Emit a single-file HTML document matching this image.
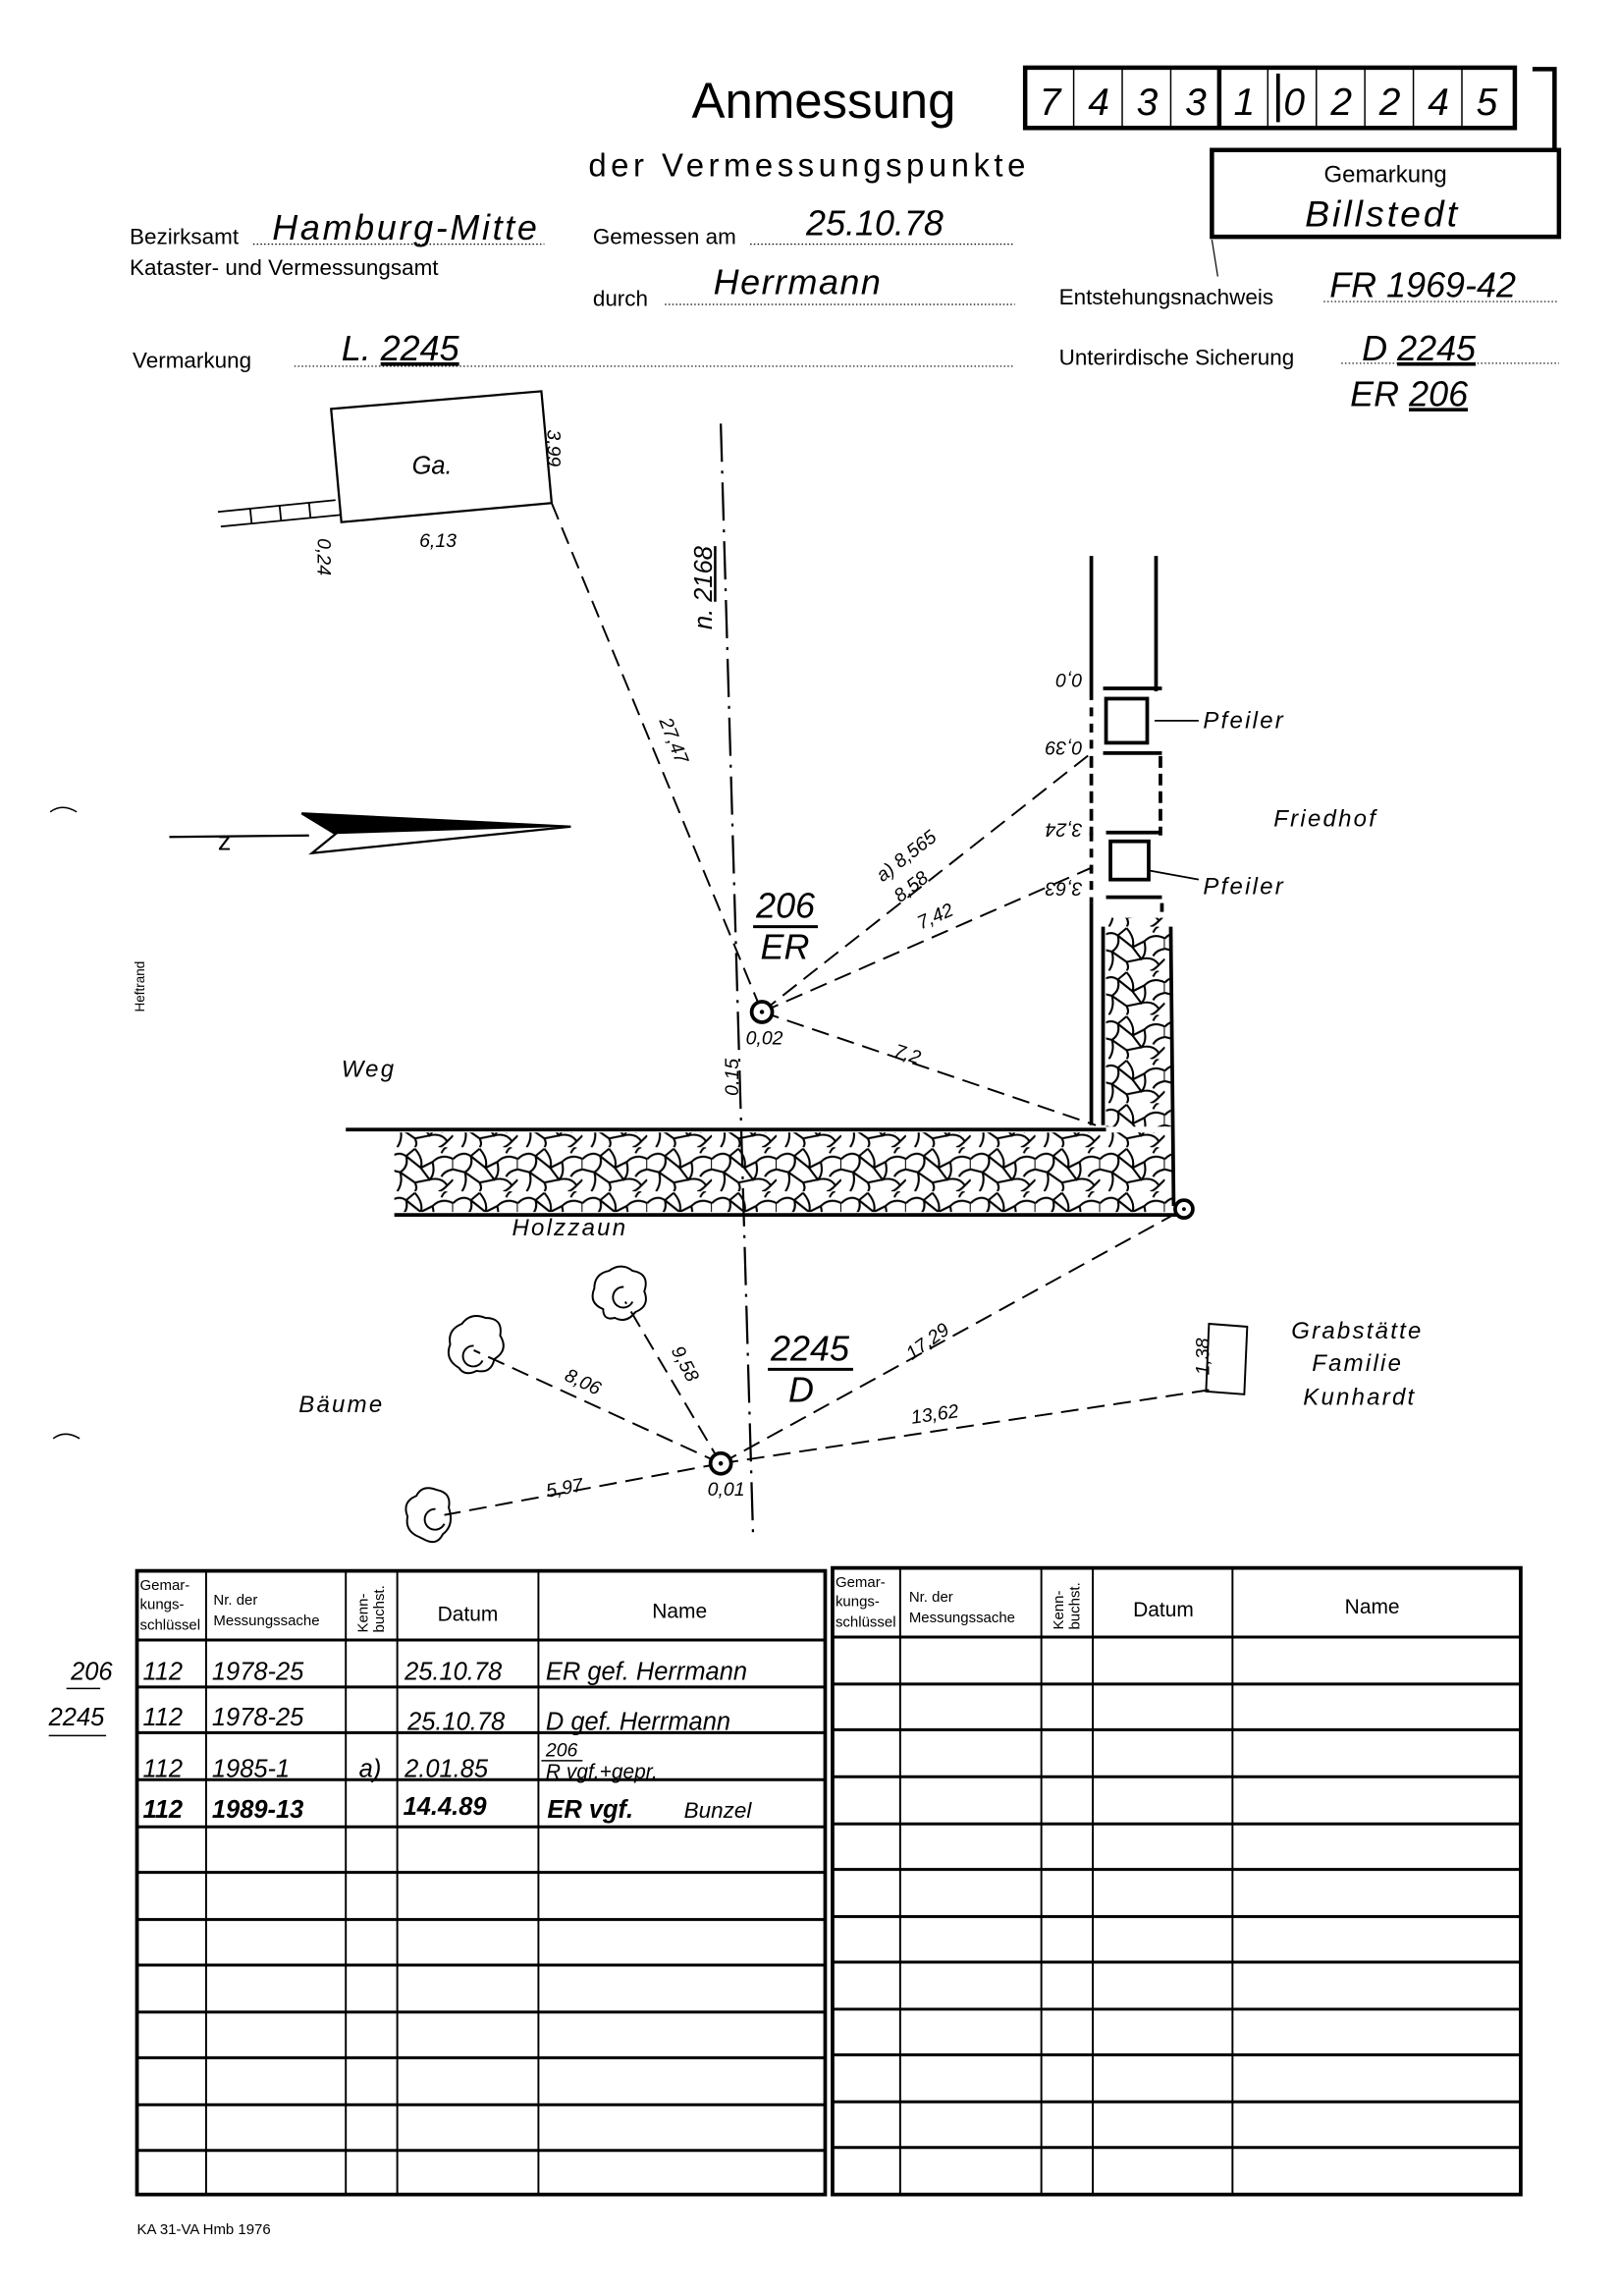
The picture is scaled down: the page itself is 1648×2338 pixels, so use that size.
<!DOCTYPE html>
<html><head><meta charset="utf-8"><style>
html,body{margin:0;padding:0;background:#fff}
svg{display:block}
text{font-family:"Liberation Sans",sans-serif;fill:#000}
.i{font-style:italic}
</style></head><body>
<svg width="1648" height="2338" viewBox="0 0 1100 1561" xmlns="http://www.w3.org/2000/svg">
<defs>
<pattern id="cob" width="44" height="30" patternUnits="userSpaceOnUse">
<path d="M0 8 Q6 2 12 6 L18 1 M12 6 Q14 13 8 17 L0 15 M18 1 Q24 8 22 14 L12 6 M22 14 L30 10 Q36 4 44 8 M30 10 Q32 18 28 22 L22 14 M8 17 Q10 24 6 30 M28 22 L18 24 L8 17 M18 24 Q20 28 18 30 M28 22 Q36 20 40 26 L44 22 M40 26 Q36 30 34 30 M36 4 Q38 0 40 0 M44 8 L44 15 Q38 16 36 20" fill="none" stroke="#000" stroke-width="1.4"/>
</pattern>
</defs>

<!-- Header -->
<text x="560" y="80" font-size="34" text-anchor="middle">Anmessung</text>
<rect x="697" y="46" width="333" height="41" fill="none" stroke="#000" stroke-width="3"/>
<g stroke="#000" stroke-width="1">
<line x1="730" y1="46" x2="730" y2="87"/><line x1="763" y1="46" x2="763" y2="87"/><line x1="796" y1="46" x2="796" y2="87"/>
<line x1="862" y1="46" x2="862" y2="87"/><line x1="895" y1="46" x2="895" y2="87"/><line x1="928" y1="46" x2="928" y2="87"/><line x1="961" y1="46" x2="961" y2="87"/><line x1="994" y1="46" x2="994" y2="87"/>
</g>
<line x1="829" y1="46" x2="829" y2="87" stroke="#000" stroke-width="3"/>
<line x1="869" y1="50" x2="869" y2="83" stroke="#000" stroke-width="2.5"/>
<g font-size="26" class="i" text-anchor="middle">
<text x="714" y="78" class="i">7</text><text x="747" y="78">4</text><text x="780" y="78" class="i">3</text><text x="813" y="78" class="i">3</text><text x="846" y="78" class="i">1</text><text x="880" y="78" class="i">0</text><text x="912" y="78" class="i">2</text><text x="945" y="78" class="i">2</text><text x="978" y="78">4</text><text x="1011" y="78" class="i">5</text>
</g>
<polyline points="1042,47 1057,47 1057,102" fill="none" stroke="#000" stroke-width="3"/>
<text x="400" y="120" font-size="22" letter-spacing="3">der Vermessungspunkte</text>
<rect x="824" y="102" width="236" height="59" fill="none" stroke="#000" stroke-width="3"/>
<text x="942" y="124" font-size="16" text-anchor="middle">Gemarkung</text>
<text x="940" y="154" font-size="25" class="i" text-anchor="middle" letter-spacing="2">Billstedt</text>
<line x1="824" y1="163" x2="828" y2="188" stroke="#000" stroke-width="0.8"/>

<g font-size="15">
<text x="88" y="166">Bezirksamt</text>
<text x="88" y="187">Kataster- und Vermessungsamt</text>
<text x="403" y="166">Gemessen am</text>
<text x="403" y="208">durch</text>
<text x="720" y="207">Entstehungsnachweis</text>
<text x="90" y="250">Vermarkung</text>
<text x="720" y="248">Unterirdische Sicherung</text>
</g>
<g stroke="#000" stroke-width="0.8" stroke-dasharray="1,1.5">
<line x1="172" y1="166" x2="370" y2="166"/><line x1="510" y1="166" x2="690" y2="166"/>
<line x1="452" y1="207" x2="690" y2="207"/><line x1="900" y1="205" x2="1060" y2="205"/>
<line x1="200" y1="249" x2="690" y2="249"/><line x1="912" y1="247" x2="1060" y2="247"/>
</g>
<g class="i" font-size="24">
<text x="185" y="163" class="i" textLength="180">Hamburg-Mitte</text>
<text x="548" y="160" class="i">25.10.78</text>
<text x="485" y="200" class="i" letter-spacing="1">Herrmann</text>
<text x="904" y="202" class="i">FR 1969-42</text>
<text x="232" y="245" class="i">L. <tspan text-decoration="underline">2245</tspan></text>
<text x="926" y="245" class="i">D  <tspan text-decoration="underline">2245</tspan></text>
<text x="918" y="276" class="i">ER  <tspan text-decoration="underline">206</tspan></text>
</g>

<!-- Garage -->
<polygon points="225,278 368,266 375,342 232,355" fill="none" stroke="#000" stroke-width="1.5"/>
<text x="280" y="322" font-size="17" class="i">Ga.</text>
<g stroke="#000" stroke-width="1.2">
<line x1="148" y1="348" x2="228" y2="340"/><line x1="150" y1="358" x2="232" y2="350"/>
<line x1="170" y1="346" x2="171" y2="356"/><line x1="190" y1="344" x2="191" y2="354"/><line x1="210" y1="342" x2="211" y2="352"/>
</g>
<text x="285" y="372" font-size="13" class="i">6,13</text>
<text font-size="13" class="i" transform="translate(372,292) rotate(90)">3,99</text>
<text font-size="13" class="i" transform="translate(216,366) rotate(90)">0,24</text>

<!-- vertical dash-dot line -->
<line x1="490" y1="288" x2="512" y2="1045" stroke="#000" stroke-width="1.5" stroke-dasharray="26,6,2,6"/>
<text font-size="17" class="i" transform="translate(484,428) rotate(-90)">n. <tspan text-decoration="underline">2168</tspan></text>

<!-- column -->
<g stroke="#000" stroke-width="2.5" fill="none">
<line x1="742" y1="378" x2="742" y2="470"/><line x1="786" y1="378" x2="786" y2="470"/>
<line x1="742" y1="514" x2="742" y2="568" stroke-dasharray="8,4"/><line x1="789" y1="514" x2="789" y2="568" stroke-dasharray="8,4"/>
<line x1="742" y1="614" x2="742" y2="765"/><line x1="790" y1="614" x2="790" y2="620"/>
<line x1="796" y1="630" x2="798" y2="820"/><line x1="750" y1="630" x2="750" y2="765"/>
<line x1="750" y1="468" x2="790" y2="468"/><line x1="750" y1="512" x2="790" y2="512"/>
<rect x="752" y="475" width="28" height="30"/>
<line x1="752" y1="566" x2="790" y2="566"/><line x1="752" y1="610" x2="790" y2="610"/>
<rect x="755" y="572" width="26" height="26"/>
<line x1="742" y1="470" x2="742" y2="514" stroke-dasharray="6,5"/>
<line x1="742" y1="566" x2="742" y2="614" stroke-dasharray="6,5"/>
</g>
<rect x="752" y="624" width="44" height="142" fill="url(#cob)"/>
<line x1="785" y1="490" x2="815" y2="490" stroke="#000" stroke-width="1.2"/>
<line x1="782" y1="592" x2="815" y2="598" stroke="#000" stroke-width="1.2"/>
<g font-size="16" class="i" letter-spacing="1.5">
<text x="818" y="495">Pfeiler</text><text x="818" y="608">Pfeiler</text>
<text x="866" y="562">Friedhof</text>
<text x="232" y="732">Weg</text><text x="348" y="840">Holzzaun</text>
<text x="203" y="960">Bäume</text>
<text x="878" y="910">Grabstätte</text><text x="892" y="932">Familie</text><text x="886" y="955">Kunhardt</text>
</g>
<g font-size="13" class="i">
<text transform="translate(736,458) rotate(180)">0,0</text>
<text transform="translate(736,504) rotate(180)">0,39</text>
<text transform="translate(736,560) rotate(180)">3,24</text>
<text transform="translate(736,600) rotate(180)">3,63</text>
</g>

<!-- band -->
<rect x="268" y="770" width="530" height="54" fill="url(#cob)"/>
<line x1="235" y1="768" x2="752" y2="768" stroke="#000" stroke-width="2.5"/>
<line x1="268" y1="826" x2="800" y2="826" stroke="#000" stroke-width="2.5"/>
<circle cx="805" cy="822" r="6" fill="#fff" stroke="#000" stroke-width="2.5"/>
<circle cx="805" cy="822" r="1.3" fill="#000"/>

<!-- dashed measurement lines -->
<g stroke="#000" stroke-width="1.3" stroke-dasharray="12,6" fill="none">
<line x1="375" y1="342" x2="518" y2="688"/>
<line x1="518" y1="688" x2="742" y2="512"/>
<line x1="518" y1="688" x2="742" y2="590"/>
<line x1="518" y1="688" x2="745" y2="765"/>
<line x1="490" y1="995" x2="805" y2="822"/>
<line x1="490" y1="995" x2="822" y2="945"/>
<line x1="490" y1="995" x2="322" y2="918"/>
<line x1="490" y1="995" x2="425" y2="885"/>
<line x1="490" y1="995" x2="302" y2="1030"/>
</g>
<g font-size="13" class="i">
<text transform="translate(448,490) rotate(68)">27,47</text>
<text transform="translate(600,600) rotate(-38)">a) 8,565</text>
<text transform="translate(612,614) rotate(-38)">8,58</text>
<text transform="translate(626,632) rotate(-24)">7,42</text>
<text transform="translate(607,718) rotate(18)">7,2</text>
<text transform="translate(502,745) rotate(-90)">0,15</text>
<text x="507" y="710">0,02</text>
<text x="481" y="1017">0,01</text>
<text transform="translate(383,938) rotate(25)">8,06</text>
<text transform="translate(456,918) rotate(62)">9,58</text>
<text transform="translate(620,925) rotate(-36)">17,29</text>
<text transform="translate(620,968) rotate(-8)">13,62</text>
<text transform="translate(372,1018) rotate(-10)">5,97</text>
<text transform="translate(822,935) rotate(-90)">1,38</text>
</g>
<polygon points="822,900 848,902 846,948 820,946" fill="none" stroke="#000" stroke-width="1.3"/>

<!-- point 206 -->
<circle cx="518" cy="688" r="7" fill="#fff" stroke="#000" stroke-width="2.5"/>
<circle cx="518" cy="688" r="1.5" fill="#000"/>
<text x="514" y="624" font-size="24" class="i">206</text>
<line x1="512" y1="630" x2="556" y2="630" stroke="#000" stroke-width="2"/>
<text x="517" y="652" font-size="24" class="i">ER</text>
<!-- point 2245 -->
<circle cx="490" cy="995" r="7" fill="#fff" stroke="#000" stroke-width="2.5"/>
<circle cx="490" cy="995" r="1.5" fill="#000"/>
<text x="524" y="925" font-size="24" class="i">2245</text>
<line x1="522" y1="931" x2="580" y2="931" stroke="#000" stroke-width="2"/>
<text x="536" y="953" font-size="24" class="i">D</text>

<!-- trees -->
<g fill="none" stroke="#000" stroke-width="1.3">
<path d="M312,930 q-10,-6 -6,-16 q-2,-10 8,-14 q6,-8 16,-4 q12,0 10,12 q6,10 -4,16 q-2,10 -12,8 q-8,4 -12,-2z"/>
<path d="M328,925 a7,7 0 1 1 -6,-10"/>
<path d="M410,890 q-10,-4 -6,-14 q0,-10 10,-12 q8,-6 16,0 q12,2 8,14 q4,10 -6,14 q-6,8 -14,4 q-8,2 -8,-6z"/>
<path d="M430,885 a7,7 0 1 1 -6,-10"/>
<path d="M285,1045 q-10,-4 -8,-14 q-4,-10 6,-14 q4,-8 14,-4 q10,2 8,12 q4,12 -4,18 q-4,8 -12,4z"/>
<path d="M302,1036 a7,7 0 1 1 -6,-10"/>
</g>

<!-- north arrow -->
<line x1="115" y1="569" x2="210" y2="568" stroke="#000" stroke-width="1.5"/>
<text x="148" y="578" font-size="18">z</text>
<polygon points="205,553 388,562 212,580 228,567" fill="#fff" stroke="#000" stroke-width="1.5"/>
<polygon points="205,553 388,562 228,567" fill="#000"/>

<text font-size="9" transform="translate(98,688) rotate(-90)">Heftrand</text>
<path d="M34,552 q8,-6 18,0" stroke="#000" fill="none" stroke-width="1"/>
<path d="M36,978 q8,-6 18,0" stroke="#000" fill="none" stroke-width="1"/>

<!-- tables -->
<g stroke="#000" fill="none">
<rect x="93" y="1068" width="468" height="424" stroke-width="2.5"/>
<rect x="566" y="1066" width="468" height="426" stroke-width="2.5"/>
<g stroke-width="1.3">
<line x1="140" y1="1068" x2="140" y2="1492"/><line x1="235" y1="1068" x2="235" y2="1492"/><line x1="270" y1="1068" x2="270" y2="1492"/><line x1="366" y1="1068" x2="366" y2="1492"/>
<line x1="612" y1="1066" x2="612" y2="1492"/><line x1="708" y1="1066" x2="708" y2="1492"/><line x1="743" y1="1066" x2="743" y2="1492"/><line x1="838" y1="1066" x2="838" y2="1492"/>
</g>
<g stroke-width="2">
<line x1="93" y1="1115" x2="561" y2="1115"/><line x1="566" y1="1113" x2="1034" y2="1113"/>
<line x1="93" y1="1147" x2="561" y2="1147"/><line x1="566" y1="1145" x2="1034" y2="1145"/>
<line x1="93" y1="1178" x2="561" y2="1178"/><line x1="566" y1="1176" x2="1034" y2="1176"/>
<line x1="93" y1="1210" x2="561" y2="1210"/><line x1="566" y1="1208" x2="1034" y2="1208"/>
<line x1="93" y1="1242" x2="561" y2="1242"/><line x1="566" y1="1240" x2="1034" y2="1240"/>
<line x1="93" y1="1273" x2="561" y2="1273"/><line x1="566" y1="1271" x2="1034" y2="1271"/>
<line x1="93" y1="1305" x2="561" y2="1305"/><line x1="566" y1="1303" x2="1034" y2="1303"/>
<line x1="93" y1="1336" x2="561" y2="1336"/><line x1="566" y1="1334" x2="1034" y2="1334"/>
<line x1="93" y1="1368" x2="561" y2="1368"/><line x1="566" y1="1366" x2="1034" y2="1366"/>
<line x1="93" y1="1399" x2="561" y2="1399"/><line x1="566" y1="1397" x2="1034" y2="1397"/>
<line x1="93" y1="1431" x2="561" y2="1431"/><line x1="566" y1="1429" x2="1034" y2="1429"/>
<line x1="93" y1="1462" x2="561" y2="1462"/><line x1="566" y1="1460" x2="1034" y2="1460"/>
</g>
</g>
<g font-size="10">
<text x="95" y="1081">Gemar-</text><text x="95" y="1094">kungs-</text><text x="95" y="1108">schlüssel</text>
<text x="145" y="1091">Nr. der</text><text x="145" y="1105">Messungssache</text>
<text transform="translate(250,1110) rotate(-90)">Kenn-</text><text transform="translate(261,1110) rotate(-90)">buchst.</text>
<text x="568" y="1079">Gemar-</text><text x="568" y="1092">kungs-</text><text x="568" y="1106">schlüssel</text>
<text x="618" y="1089">Nr. der</text><text x="618" y="1103">Messungssache</text>
<text transform="translate(723,1108) rotate(-90)">Kenn-</text><text transform="translate(734,1108) rotate(-90)">buchst.</text>
</g>
<g font-size="14" text-anchor="middle">
<text x="318" y="1102">Datum</text><text x="462" y="1100">Name</text>
<text x="791" y="1099">Datum</text><text x="933" y="1097">Name</text>
</g>
<g font-size="17" class="i">
<text x="48" y="1142" class="i">206</text><text x="33" y="1173" class="i">2245</text>
<text x="97" y="1142" class="i">112</text><text x="144" y="1142" class="i">1978-25</text><text x="275" y="1142" class="i">25.10.78</text><text x="371" y="1142" class="i">ER gef. Herrmann</text>
<text x="97" y="1173" class="i">112</text><text x="144" y="1173" class="i">1978-25</text><text x="277" y="1176" class="i">25.10.78</text><text x="371" y="1176" class="i">D  gef. Herrmann</text>
<text x="97" y="1208" class="i">112</text><text x="144" y="1208" class="i">1985-1</text><text x="244" y="1208" class="i">a)</text><text x="275" y="1208" class="i">2.01.85</text>
<text x="371" y="1209" font-size="14" class="i">R  vgf.+gepr.</text>
<text x="371" y="1194" font-size="13" class="i">206</text>
<text x="97" y="1236" font-weight="bold" class="i">112</text><text x="144" y="1236" font-weight="bold" class="i">1989-13</text><text x="274" y="1234" font-weight="bold" class="i">14.4.89</text>
<text x="372" y="1236" font-weight="bold" class="i">ER vgf.</text><text x="465" y="1236" font-size="15" class="i" font-family="Liberation Serif">Bunzel</text>
</g>
<line x1="368" y1="1197" x2="396" y2="1197" stroke="#000" stroke-width="1"/>
<line x1="45" y1="1148" x2="68" y2="1148" stroke="#000" stroke-width="1"/>
<line x1="33" y1="1180" x2="72" y2="1180" stroke="#000" stroke-width="1"/>
<text x="93" y="1519" font-size="10">KA 31-VA Hmb 1976</text>
</svg>
</body></html>
